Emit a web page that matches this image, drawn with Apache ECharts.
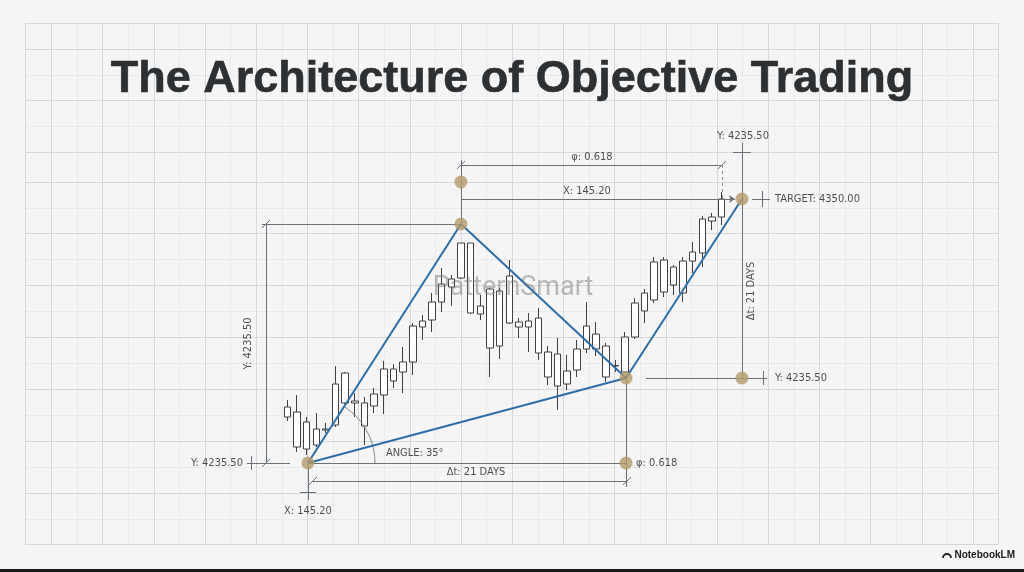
<!DOCTYPE html>
<html><head><meta charset="utf-8">
<script src="https://cdn.jsdelivr.net/npm/echarts@6/dist/echarts.min.js"></script>
<style>html,body{margin:0;padding:0;background:#f5f5f5;}#c{width:1024px;height:572px;}</style>
</head><body><div id="c"></div>
<script>
// ---------- DATA ----------
const openPrices  = [4132,4137,4100,4120,4119,4124,4176,4148,4146,4143,4154,4168,4177,4187,4222,4229,4247,4262,4271,4306,4243,4260,4203,4273,4227,4222,4231,4197,4195,4165,4179,4200,4215,4203,4183,4177,4212,4238,4249,4289,4264,4256,4288,4296,4328,4332];
const closePrices = [4142,4102,4127,4104,4120,4165,4146,4146,4123,4155,4180,4180,4187,4223,4228,4247,4265,4270,4306,4236,4235,4201,4258,4226,4222,4228,4196,4172,4163,4178,4200,4223,4200,4172,4183.5,4212,4246,4256,4287,4257,4282,4288,4297,4330,4332,4350];
const lowPrices   = [4128,4097,4094,4102,4116,4122,4145,4132,4104,4136,4135,4161,4156,4174,4209,4217,4237,4243,4270,4235,4229,4172,4190,4225,4211,4197,4189,4164,4139,4159,4172,4196,4193,4167,4177,4176,4210,4226,4246,4252,4254,4247,4276,4282,4319,4324];
const highPrices  = [4149,4154,4132,4136,4126,4183,4177,4156,4152,4161,4188,4185,4202,4226,4234,4256,4281,4274,4306,4306,4254,4261,4261,4289,4231,4236,4241,4203,4211,4194,4209,4247,4227,4206,4189,4217,4251,4260,4292,4292,4284,4292,4307,4333,4336,4357];

// pattern pivots A, B, C, D (day index of first candle = 0)
const pivotNames  = ['A','B','C','D'];
const pivotDays   = [2.14, 17.99, 35.09, 47.1];
const pivotPrices = [4086, 4325, 4171, 4350];

const titleText = 'The Architecture of Objective Trading';
const watermarkText = 'PatternSmart';
const yText = 'Y: 4235.50';
const xText = 'X: 145.20';
const phiText = 'φ: 0.618';
const dtText = 'Δt: 21 DAYS';
const angleText = 'ANGLE: 35°';
const targetText = 'TARGET: 4350.00';

// ---------- LAYOUT ----------
const LEAD = 27, SLOTS = 100;
const GRID_LEFT = 21.84, GRID_W = 965.3, GRID_TOP = 23, GRID_H = 521;
const Y_MIN = 4005, Y_MAX = 4526;
const PX_DAY = GRID_W / SLOTS;
const PX_PRICE = GRID_H / (Y_MAX - Y_MIN);

const categories = Array.from({length: SLOTS}, (_, k) => 'Day ' + (k - LEAD + 1));
const candleData = openPrices.map((o, i) => [LEAD + i, o, closePrices[i], lowPrices[i], highPrices[i]]);

const P = pivotDays.map((d, i) => [d, pivotPrices[i]]);
const [A, B, C, D] = P;
const E = [D[0], C[1]];
const F = [C[0], A[1]];
// point using day of xRef and price of yRef, shifted by pixel offsets (dy>0 = down)
function q(xRef, yRef, dx = 0, dy = 0) { return [xRef[0] + dx / PX_DAY, yRef[1] - dy / PX_PRICE]; }
function slash(xRef, yRef, dx = 0, dy = 0) { return {coords: [q(xRef, yRef, dx - 4, dy + 4), q(xRef, yRef, dx + 4, dy - 4)]}; }
function seg(p1, p2) { return {coords: [p1, p2]}; }

const grayLines = [
  seg(q(A, B, -46, 0), B),
  seg(q(A, B, -42, 0), q(A, A, -42, 0)),
  slash(A, B, -42, 0), slash(A, A, -42, 0),
  seg(q(A, A, -61, 0), q(A, A, -18, 0)),
  seg(q(A, A, -57, -7), q(A, A, -57, 7)),
  seg(A, F),
  seg(A, q(A, A, 0, 37)),
  seg(q(A, A, -8, 29), q(A, A, 8, 29)),
  seg(q(A, A, 5, 18), q(C, A, 1, 18)),
  slash(A, A, 5, 18), slash(C, A, 1, 18),
  seg(C, q(C, A, 0, 24)),
  seg(B, q(B, B, 0, -64)),
  seg(q(B, B, 0, -59), q(D, B, -20, -59)),
  slash(B, B, 0, -59), slash(D, B, -20, -59),
  seg(q(D, D, 0, -56), E),
  seg(q(D, D, -9, -47), q(D, D, 9, -47)),
  seg(q(D, D, 10, 0), q(D, D, 28, 0)),
  seg(q(D, D, 20, -8), q(D, D, 20, 8)),
  seg(q(C, C, 20, 0), q(D, C, 25, 0)),
  seg(q(D, C, 21, -7), q(D, C, 21, 7))
];
const dashedLines = [ seg(q(D, B, -20, -59), q(D, D, -20, -1)) ];
const arrowLines = [ seg([B[0], D[1]], q(D, D, -7, 0)) ];
const blueLines = [ seg(A, B), seg(B, C), seg(C, D), seg(A, C) ];

// angle arc at A between horizontal and AB
const arcR = 67;
const thetaMax = Math.atan2((B[1] - A[1]) * PX_PRICE, (B[0] - A[0]) * PX_DAY);
const arcPts = [];
for (let k = 0; k <= 30; k++) {
  const th = thetaMax * k / 30;
  arcPts.push(q(A, A, arcR * Math.cos(th), -arcR * Math.sin(th)));
}

const LABEL_FONT = "'Liberation Sans Narrow','DejaVu Sans Condensed',sans-serif";
function lab(pt, text, opts) {
  return {value: pt, label: Object.assign({show: true, formatter: text, position: 'inside'}, opts)};
}
const labels = [
  lab(A, yText, {position: 'left', distance: 65}),
  lab([A[0] - 60 / PX_DAY, (A[1] + B[1]) / 2], yText, {rotate: 90}),
  lab(A, angleText, {position: 'right', distance: 78, offset: [0, -10]}),
  lab([(A[0] + C[0]) / 2, A[1]], dtText, {offset: [9, 9.5]}),
  lab(A, xText, {offset: [0, 48]}),
  lab(F, phiText, {position: 'right', distance: 10}),
  lab([(B[0] + D[0]) / 2, B[1]], phiText, {offset: [-9.5, -67]}),
  lab([(B[0] + D[0]) / 2, D[1]], xText, {offset: [-14.5, -8]}),
  lab(D, yText, {offset: [1, -63]}),
  lab(D, targetText, {position: 'right', distance: 33}),
  lab(E, yText, {position: 'right', distance: 33}),
  lab([D[0], (D[1] + E[1]) / 2], dtText, {rotate: 90, offset: [-2.5, 9]})
];

// ---------- BACKGROUND GRID (decoration) ----------
const gfx = [];
const vMajor = [25]; for (let k = 1; k <= 19; k++) vMajor.push(51.2 * k); vMajor.push(998);
const hMajor = [23, 49, 100, 152, 182, 233, 285, 337, 389, 441, 493, 544];
const vMinor = []; for (let k = 1; k <= 18; k++) vMinor.push(51.2 * k + 25.6);
const hMinor = []; for (let k = 0; k < hMajor.length - 1; k++) if (hMajor[k+1] - hMajor[k] > 40) hMinor.push((hMajor[k] + hMajor[k+1]) / 2);
vMinor.forEach(x => gfx.push({type:'line', silent:true, z:-2, shape:{x1:Math.round(x)+0.5,y1:23,x2:Math.round(x)+0.5,y2:544}, style:{stroke:'#e8eaec', lineWidth:1}}));
hMinor.forEach(y => gfx.push({type:'line', silent:true, z:-2, shape:{x1:25,y1:Math.round(y)+0.5,x2:998,y2:Math.round(y)+0.5}, style:{stroke:'#e8eaec', lineWidth:1}}));
vMajor.forEach(x => gfx.push({type:'line', silent:true, z:-1, shape:{x1:Math.round(x)+0.5,y1:23,x2:Math.round(x)+0.5,y2:544}, style:{stroke:'#d4d8dc', lineWidth:1}}));
hMajor.forEach(y => gfx.push({type:'line', silent:true, z:-1, shape:{x1:25,y1:y+0.5,x2:998,y2:y+0.5}, style:{stroke:'#d4d8dc', lineWidth:1}}));
gfx.push({type:'text', silent:true, z:1, style:{x:512, y:80, text:titleText, textAlign:'center', textVerticalAlign:'middle', font:"bold 45px 'Liberation Sans', Arial, sans-serif", fill:'#2c3033', stroke:'#2c3033', lineWidth:0.6}});
gfx.push({type:'text', silent:true, z:100, style:{x:513, y:288, text:watermarkText, textAlign:'center', textVerticalAlign:'middle', font:"27px Roboto, 'Liberation Sans', sans-serif", fill:'rgba(110,110,110,0.45)'}});
gfx.push({type:'text', silent:true, z:1, style:{x:1015, y:555, text:'NotebookLM', textAlign:'right', textVerticalAlign:'middle', font:"600 10px 'Liberation Sans', Arial, sans-serif", fill:'#222'}});
gfx.push({type:'arc', silent:true, z:1, shape:{cx:947, cy:558, r:4, startAngle:Math.PI, endAngle:0, clockwise:true}, style:{fill:'none', stroke:'#222', lineWidth:1.8}});
gfx.push({type:'rect', silent:true, z:1, shape:{x:0, y:569, width:1024, height:3}, style:{fill:'#1b1b1b'}});

const chart = echarts.init(document.getElementById('c'));
chart.setOption({
  animation: false,
  backgroundColor: '#f5f5f5',
  graphic: {elements: gfx},
  grid: {left: GRID_LEFT, top: GRID_TOP, width: GRID_W, height: GRID_H, containLabel: false},
  xAxis: [
    {type: 'category', data: categories, show: false, boundaryGap: true},
    {type: 'value', min: -LEAD - 0.5, max: SLOTS - LEAD - 0.5, show: false}
  ],
  yAxis: {type: 'value', min: Y_MIN, max: Y_MAX, show: false, splitLine: {show: false}},
  series: [
    {type: 'candlestick', xAxisIndex: 0, data: candleData, encode: {x: 0, y: [1, 2, 3, 4]}, barWidth: 7, z: 2,
     itemStyle: {color: '#ffffff', color0: '#ffffff', borderColor: '#3f4245', borderColor0: '#3f4245', borderWidth: 1}},
    {type: 'lines', coordinateSystem: 'cartesian2d', xAxisIndex: 1, yAxisIndex: 0, z: 3, silent: true,
     data: grayLines, lineStyle: {color: '#6a7178', width: 1, opacity: 1}},
    {type: 'lines', coordinateSystem: 'cartesian2d', xAxisIndex: 1, yAxisIndex: 0, z: 3, silent: true,
     data: dashedLines, lineStyle: {color: '#8a9096', width: 1, type: [3, 3], opacity: 1}},
    {type: 'lines', coordinateSystem: 'cartesian2d', xAxisIndex: 1, yAxisIndex: 0, z: 3, silent: true,
     data: arrowLines, symbol: ['none', 'arrow'], symbolSize: 6, lineStyle: {color: '#6a7178', width: 1, opacity: 1}},
    {type: 'lines', coordinateSystem: 'cartesian2d', xAxisIndex: 1, yAxisIndex: 0, z: 3, silent: true, polyline: true,
     data: [{coords: arcPts}], lineStyle: {color: '#7d848a', width: 1, opacity: 1}},
    {type: 'lines', coordinateSystem: 'cartesian2d', xAxisIndex: 1, yAxisIndex: 0, z: 4, silent: true,
     data: blueLines, lineStyle: {color: '#2f6ea6', width: 2, opacity: 1}},
    {type: 'scatter', xAxisIndex: 1, yAxisIndex: 0, z: 5, silent: true, symbolSize: 13,
     itemStyle: {color: '#b39b69'}, data: [A, B, C, D, q(B, B, 0, -42), E, F]},
    {type: 'scatter', xAxisIndex: 1, yAxisIndex: 0, z: 6, silent: true, symbolSize: 0,
     label: {color: '#1f2123', fontSize: 11, fontFamily: LABEL_FONT}, data: labels}
  ]
});
</script>
</body></html>
